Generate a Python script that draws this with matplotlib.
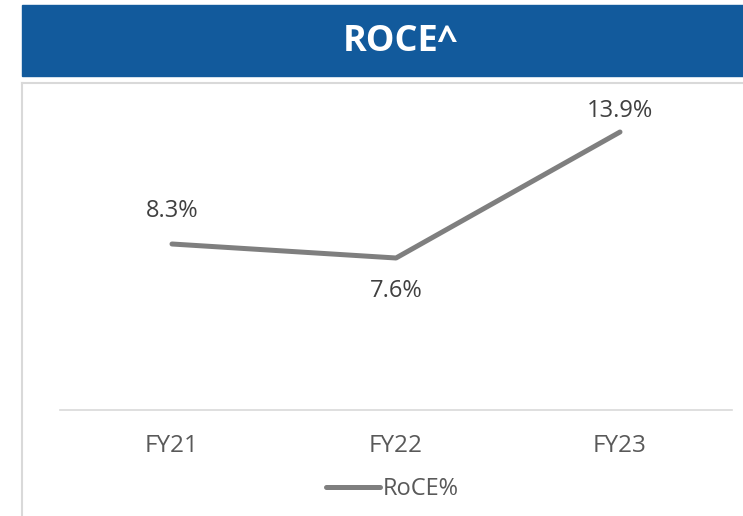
import matplotlib.pyplot as plt
from matplotlib.patches import Rectangle
from matplotlib.lines import Line2D

# data
years = ['FY21', 'FY22', 'FY23']
roce = [8.3, 7.6, 13.9]

# label offsets in pixels (Excel pushed the top one down a bit)
label_dy = [33, -33, 21]

plt.rcParams['font.family'] = ['Open Sans', 'DejaVu Sans']

fig = plt.figure(figsize=(7.43, 5.16), dpi=100)
W, H = 743, 516

# blue header band
fig.patches.append(Rectangle((22 / W, 1 - 76 / H), 1 - 22 / W, 71 / H,
                             transform=fig.transFigure, color='#125A9C', zorder=0))
fig.text(400 / W, 1 - 42 / H, 'ROCE^', color='white', fontsize=26,
         fontweight='bold', ha='center', va='center')

# light border round chart area
fig.lines.append(Line2D([22 / W, 22 / W], [0, 1 - 83 / H], transform=fig.transFigure,
                        color='#D9D9D9', lw=1.5))
fig.lines.append(Line2D([22 / W, 1], [1 - 83 / H, 1 - 83 / H], transform=fig.transFigure,
                        color='#D9D9D9', lw=1.5))

# plot area
ax = fig.add_axes([60 / W, 1 - 410 / H, (732 - 60) / W, (410 - 90) / H])
x = range(len(years))
ax.plot(x, roce, color='#7F7F7F', lw=3.6, solid_capstyle='round', label='RoCE%')
ax.set_xlim(-0.5, 2.5)
ax.set_ylim(0, 16)
for s in ['top', 'right', 'left']:
    ax.spines[s].set_visible(False)
ax.spines['bottom'].set_color('#D9D9D9')
ax.spines['bottom'].set_linewidth(1.2)
ax.set_yticks([])
ax.set_xticks(list(x))
ax.set_xticklabels(years, fontsize=17.5, color='#595959')
ax.tick_params(axis='x', length=0, pad=17)

for i, v in enumerate(roce):
    ax.annotate(f'{v}%', (i, v), xytext=(0, label_dy[i] * 0.72), textcoords='offset points',
                ha='center', va='center', fontsize=17, color='#404040')

fig.legend(loc='center', bbox_to_anchor=(392 / W, 1 - 489 / H), frameon=False,
           fontsize=17, handlelength=2.3, handletextpad=0.1, labelcolor='#595959')

fig.savefig('out.png', dpi=100)
